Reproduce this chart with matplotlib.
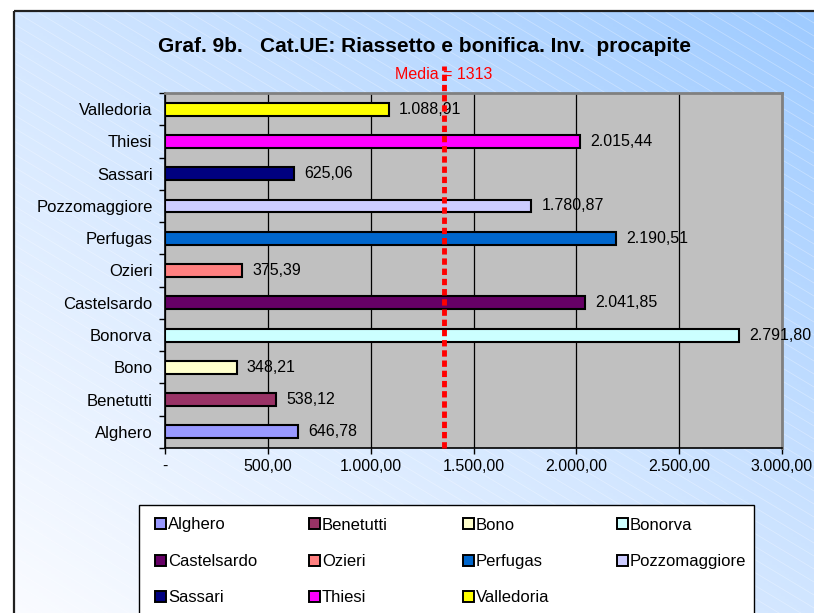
import numpy as np
import matplotlib
matplotlib.use("Agg")
import matplotlib.pyplot as plt
from matplotlib.patches import Rectangle
from matplotlib.collections import LineCollection

# data (bottom to top)
comuni = ["Alghero", "Benetutti", "Bono", "Bonorva", "Castelsardo", "Ozieri",
          "Perfugas", "Pozzomaggiore", "Sassari", "Thiesi", "Valledoria"]
valori = [646.78, 538.12, 348.21, 2791.80, 2041.85, 375.39,
          2190.51, 1780.87, 625.06, 2015.44, 1088.91]
colori = ["#9999FF", "#993366", "#FFFFCC", "#CCFFFF", "#660066", "#FF8080",
          "#0066CC", "#CCCCFF", "#000080", "#FF00FF", "#FFFF00"]
xticks = [0, 500, 1000, 1500, 2000, 2500, 3000]
media = 1313
media_pos = 1356  # the red line in the original sits a little right of the mean


def fmt_it(v):
    '''italian number format: 1.088,91'''
    s = f"{v:,.2f}"
    return s.replace(",", "X").replace(".", ",").replace("X", ".")


plt.rcParams["font.family"] = ["Liberation Sans", "DejaVu Sans"]

W, H = 814, 613
fig = plt.figure(figsize=(W / 100, H / 100), dpi=100)

# background: diagonal gradient + thin white hatch lines, in pixel coords
bg = fig.add_axes([0, 0, 1, 1])
bg.axis("off")
xx, yy = np.meshgrid(np.linspace(0, 1, 200), np.linspace(0, 1, 200))
t = (xx + (1 - yy)) / 2
cmap = matplotlib.colors.LinearSegmentedColormap.from_list(
    "bg", ["#fbfcff", "#d2e6ff", "#9dcaff"])
bg.imshow(t, cmap=cmap, extent=[14, W + 20, H + 20, 11], aspect="auto", zorder=0)
segs = []
for y0 in np.arange(-600, H + 20, 13):
    segs.append([(14, y0), (W + 20, y0 + 0.6 * (W + 6))])
bg.add_collection(LineCollection(segs, colors="white", linewidths=0.6, alpha=0.3, zorder=1))
bg.add_patch(Rectangle((14, 11), W + 20, H + 20, fill=False, edgecolor="#202020",
                       linewidth=1.6, zorder=2))

# legend drawn by hand: 4 columns, row-major like the original
bg.add_patch(Rectangle((139, 505), 615, 130, facecolor="white", edgecolor="black",
                       linewidth=1.0, zorder=3))
for i, (nome, col) in enumerate(zip(comuni, colori)):
    r, c = divmod(i, 4)
    x = 155 + c * 154
    y = 523.5 + r * 36.5
    bg.add_patch(Rectangle((x, y - 5.5), 11, 11, facecolor=col, edgecolor="black",
                           linewidth=1.4, zorder=4))
    bg.text(x + 13, y, nome, ha="left", va="center_baseline", fontsize=12, zorder=5)

bg.set_xlim(0, W)
bg.set_ylim(H, 0)

# main chart
ax = fig.add_axes([165 / W, 1 - 448 / H, 617 / W, 355 / H])
ax.set_facecolor("#C0C0C0")
ypos = np.arange(len(comuni))
ax.barh(ypos, valori, height=0.4, color=colori, edgecolor="black", linewidth=1.5, zorder=3)
for y, v in zip(ypos, valori):
    ax.text(v + 50, y, fmt_it(v), va="center", ha="left", fontsize=11.5, zorder=5)

ax.set_xlim(0, 3000)
ax.set_ylim(-0.5, len(comuni) - 0.5)
ax.set_xticks(xticks)
ax.set_xticklabels(["-"] + [fmt_it(v) for v in xticks[1:]], fontsize=11.5)
ax.set_yticks(ypos)
ax.set_yticklabels(comuni, fontsize=12)
ax.tick_params(axis="y", length=0, pad=9)
ax.tick_params(axis="x", length=4, width=1, pad=4)
ax.set_yticks(np.arange(-0.5, len(comuni), 1), minor=True)
ax.tick_params(axis="y", which="minor", length=4, width=1)
ax.grid(axis="x", color="black", linewidth=0.9, zorder=1)
for s in ["top", "right"]:
    ax.spines[s].set_color("#808080")
    ax.spines[s].set_linewidth(2)
ax.spines["left"].set_linewidth(1.2)
ax.spines["bottom"].set_linewidth(1.2)

# mean line with its label
ax.plot([media_pos, media_pos], [-0.5, 11.35], color="red", linewidth=3.5,
        linestyle=(0, (1.3, 0.8)), clip_on=False, zorder=6, solid_capstyle="butt",
        dash_capstyle="butt")
ax.text(media_pos, 11.06, f"Media = {media}", color="red", ha="center", va="center",
        fontsize=11.5, zorder=7)

fig.text(425 / W, 1 - 46 / H, "Graf. 9b.   Cat.UE: Riassetto e bonifica. Inv.  procapite",
         ha="center", va="center", fontsize=15, fontweight="bold")

fig.savefig("out.png", dpi=100)
